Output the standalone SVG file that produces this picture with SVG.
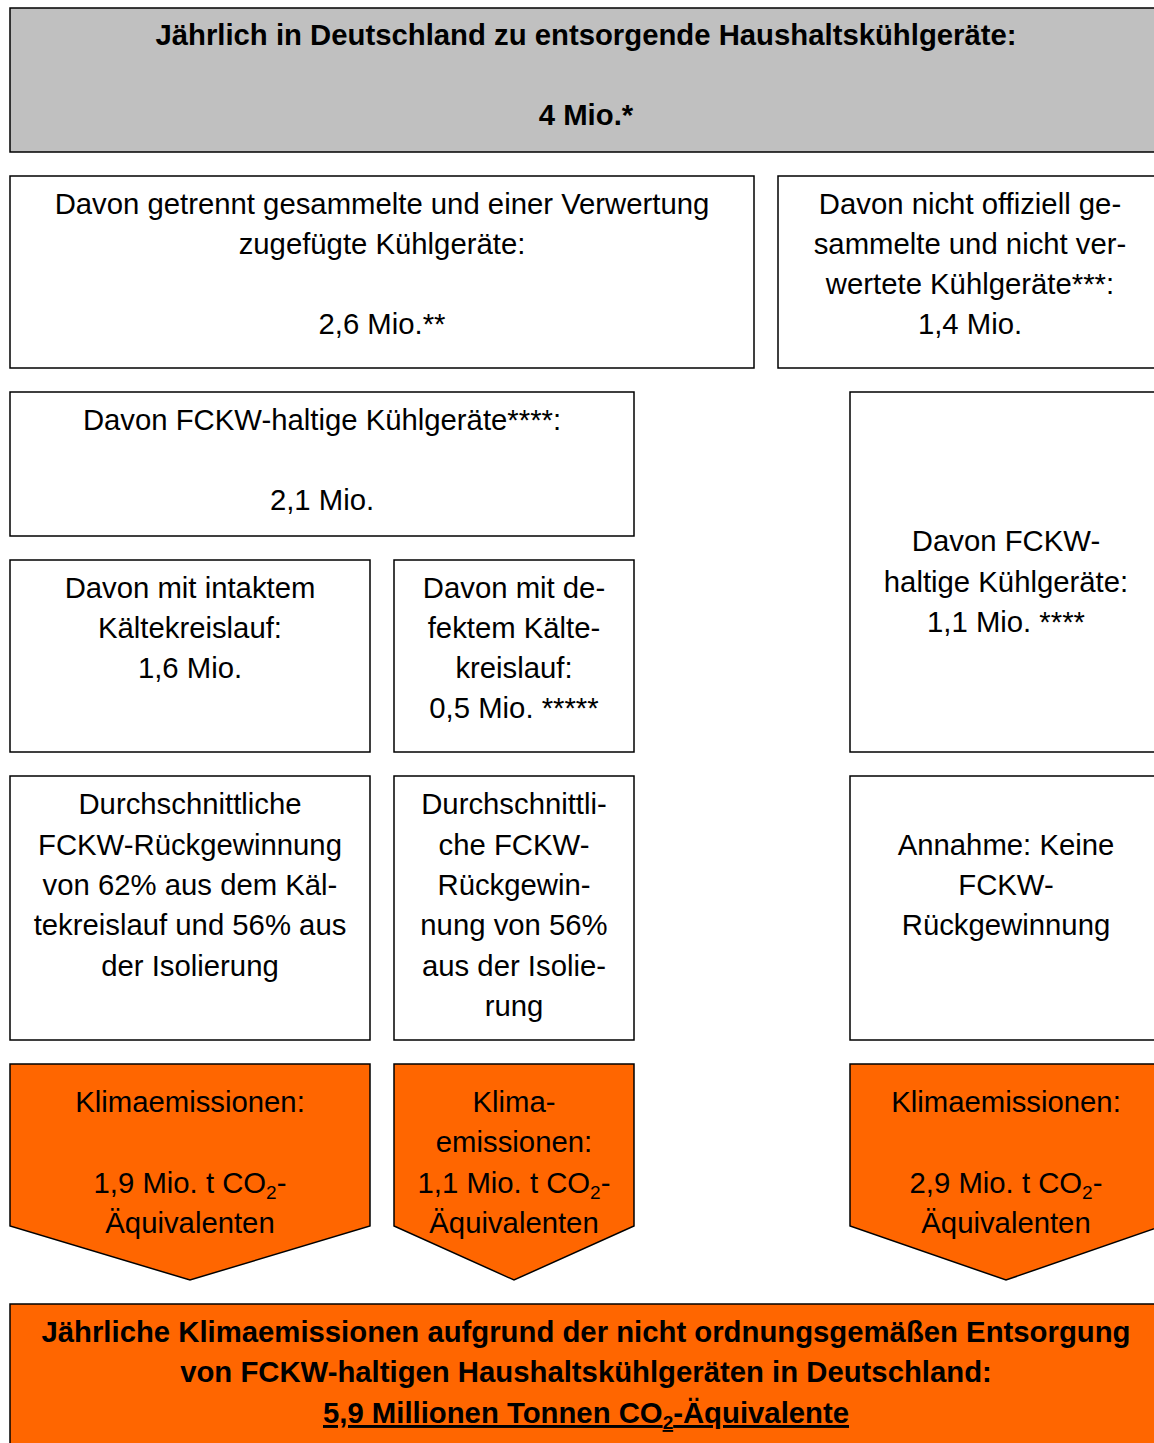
<svg xmlns="http://www.w3.org/2000/svg" width="1154" height="1443" viewBox="0 0 1154 1443">
<style>
.box{fill:#fff;stroke:#000;stroke-width:1.5}
.grey{fill:#c0c0c0;stroke:#000;stroke-width:1.5}
.or{fill:#ff6600;stroke:#000;stroke-width:1.5}
text{font-family:"Liberation Sans",Arial,sans-serif;font-size:29.3px;fill:#000;text-anchor:middle}
.b{font-weight:bold}
.sub{font-size:19px}
</style>
<rect width="1154" height="1443" fill="#fff"/>
<g id="connectors"></g>
<g id="n-total">
<rect class="grey" x="10" y="8" width="1152" height="144"/>
<text class="b" x="586" y="45">Jährlich in Deutschland zu entsorgende Haushaltskühlgeräte:</text>
<text class="b" x="586" y="125">4 Mio.*</text>
</g>
<g id="n-collected">
<rect class="box" x="10" y="176" width="744" height="192"/>
<text x="382" y="214">Davon getrennt gesammelte und einer Verwertung</text>
<text x="382" y="254">zugefügte Kühlgeräte:</text>
<text x="382" y="334">2,6 Mio.**</text>
</g>
<g id="n-notcollected">
<rect class="box" x="778" y="176" width="384" height="192"/>
<text x="970" y="214">Davon nicht offiziell ge-</text>
<text x="970" y="254">sammelte und nicht ver-</text>
<text x="970" y="294">wertete Kühlgeräte***:</text>
<text x="970" y="334">1,4 Mio.</text>
</g>
<g id="n-fckw">
<rect class="box" x="10" y="392" width="624" height="144"/>
<text x="322" y="430">Davon FCKW-haltige Kühlgeräte****:</text>
<text x="322" y="510">2,1 Mio.</text>
</g>
<g id="n-fckw-right">
<rect class="box" x="850" y="392" width="312" height="360"/>
<text x="1006" y="551">Davon FCKW-</text>
<text x="1006" y="592">haltige Kühlgeräte:</text>
<text x="1006" y="632">1,1 Mio. ****</text>
</g>
<g id="n-intact">
<rect class="box" x="10" y="560" width="360" height="192"/>
<text x="190" y="598">Davon mit intaktem</text>
<text x="190" y="638">Kältekreislauf:</text>
<text x="190" y="678">1,6 Mio.</text>
</g>
<g id="n-defect">
<rect class="box" x="394" y="560" width="240" height="192"/>
<text x="514" y="598">Davon mit de-</text>
<text x="514" y="638">fektem Kälte-</text>
<text x="514" y="678">kreislauf:</text>
<text x="514" y="718">0,5 Mio. *****</text>
</g>
<g id="n-recovery1">
<rect class="box" x="10" y="776" width="360" height="264"/>
<text x="190" y="814">Durchschnittliche</text>
<text x="190" y="855">FCKW-Rückgewinnung</text>
<text x="190" y="895">von 62% aus dem Käl-</text>
<text x="190" y="935">tekreislauf und 56% aus</text>
<text x="190" y="976">der Isolierung</text>
</g>
<g id="n-recovery2">
<rect class="box" x="394" y="776" width="240" height="264"/>
<text x="514" y="814">Durchschnittli-</text>
<text x="514" y="855">che FCKW-</text>
<text x="514" y="895">Rückgewin-</text>
<text x="514" y="935">nung von 56%</text>
<text x="514" y="976">aus der Isolie-</text>
<text x="514" y="1016">rung</text>
</g>
<g id="n-norecovery">
<rect class="box" x="850" y="776" width="312" height="264"/>
<text x="1006" y="855">Annahme: Keine</text>
<text x="1006" y="895">FCKW-</text>
<text x="1006" y="935">Rückgewinnung</text>
</g>
<g id="n-emis1">
<path class="or" d="M10,1064 H370 V1226 L190,1280 L10,1226 Z"/>
<text x="190" y="1112">Klimaemissionen:</text>
<text x="190" y="1193">1,9 Mio. t CO<tspan class="sub" dy="6">2</tspan><tspan dy="-6">-</tspan></text>
<text x="190" y="1233">Äquivalenten</text>
</g>
<g id="n-emis2">
<path class="or" d="M394,1064 H634 V1226 L514,1280 L394,1226 Z"/>
<text x="514" y="1112">Klima-</text>
<text x="514" y="1152">emissionen:</text>
<text x="514" y="1193">1,1 Mio. t CO<tspan class="sub" dy="6">2</tspan><tspan dy="-6">-</tspan></text>
<text x="514" y="1233">Äquivalenten</text>
</g>
<g id="n-emis3">
<path class="or" d="M850,1064 H1162 V1226 L1006,1280 L850,1226 Z"/>
<text x="1006" y="1112">Klimaemissionen:</text>
<text x="1006" y="1193">2,9 Mio. t CO<tspan class="sub" dy="6">2</tspan><tspan dy="-6">-</tspan></text>
<text x="1006" y="1233">Äquivalenten</text>
</g>
<g id="n-total-emis">
<rect class="or" x="10" y="1304" width="1152" height="150"/>
<text class="b" x="586" y="1342">Jährliche Klimaemissionen aufgrund der nicht ordnungsgemäßen Entsorgung</text>
<text class="b" x="586" y="1382">von FCKW-haltigen Haushaltskühlgeräten in Deutschland:</text>
<text class="b" x="586" y="1423" text-decoration="underline">5,9 Millionen Tonnen CO<tspan class="sub" dy="6">2</tspan><tspan dy="-6">-Äquivalente</tspan></text>
</g>
</svg>
